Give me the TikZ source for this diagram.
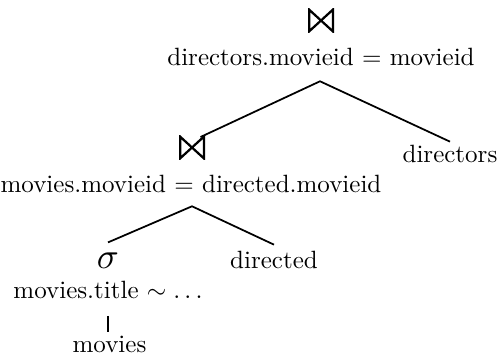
\documentclass[tikz,border=0pt]{standalone}
\usetikzlibrary{calc}
\tikzset{
  lbl/.style={anchor=base, inner sep=1pt, font=\fontsize{10}{12}\selectfont},
  joinsym/.style={inner sep=0pt, minimum width=10.4pt, minimum height=9.6pt,
    path picture={
      \draw[line width=0.9pt, line join=miter]
        ([shift={(0.45pt,-0.45pt)}]path picture bounding box.north west)
        -- ([shift={(0.45pt,0.45pt)}]path picture bounding box.south west)
        -- ([shift={(-0.45pt,-0.45pt)}]path picture bounding box.north east)
        -- ([shift={(-0.45pt,0.45pt)}]path picture bounding box.south east)
        -- cycle;
    }},
  edge/.style={line width=0.7pt, line join=miter}
}
\begin{document}
\begin{tikzpicture}[x=0.4pt,y=-0.4pt]
\useasboundingbox (0,0) rectangle (501,356);
% top join
\node[joinsym] (j1) at (321,20.5) {};
\node[lbl] (c1) at (321,65) {directors.movieid $=$ movieid};
\coordinate (apex1) at ($(c1.south)+(-1,13)$);
% second join
\node[joinsym] (j2) at (192,147.5) {};
\node[lbl] (dirs) at (450,162) {directors};
\node[lbl] (c2) at (191,192) {movies.movieid $=$ directed.movieid};
\coordinate (apex2) at ($(c2.south)+(1,11)$);
% selection
\node[lbl] (sig) at (108,268) {\scalebox{1.45}{$\sigma$}};
\node[lbl] (dird) at (274,268) {directed};
\node[lbl] (c3) at (108,298) {movies.title $\sim\ldots$};
\node[lbl] (mv) at (109.5,352) {movies};
% connectors
\draw[edge] ($(j2.north east)+(-5,2)$) -- (apex1) -- (dirs.north);
\draw[edge] ($(sig.north)+(0,-7)$) -- (apex2) -- ($(dird.north)+(0,-3)$);
\draw[edge, shorten <=5.8pt, shorten >=0.4pt] (c3.south) -- (c3.south |- mv.north);
\end{tikzpicture}
\end{document}
